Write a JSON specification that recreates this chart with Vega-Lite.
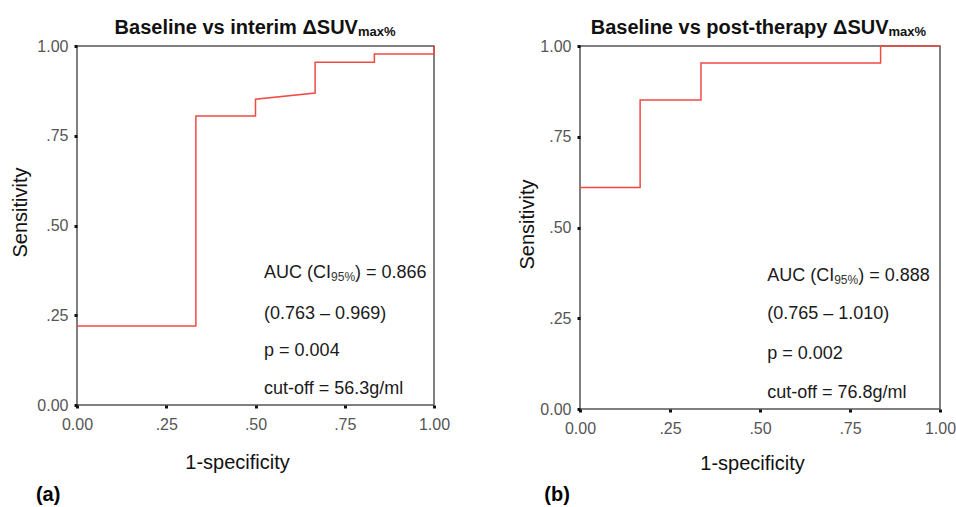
{
  "$schema": "https://vega.github.io/schema/vega-lite/v6.json",
  "padding": {"left": 9, "top": 17, "right": 0, "bottom": 0},
  "background": "white",
  "bounds": "flush",
  "spacing": 146,
  "config": {
    "font": "Liberation Sans",
    "view": {"stroke": "#555555", "strokeWidth": 1.5},
    "axis": {
      "grid": false,
      "domain": false,
      "labelFlush": false,
      "labelOverlap": false,
      "tickSize": 3,
      "tickWidth": 3,
      "tickColor": "#111111",
      "labelFontSize": 16,
      "labelColor": "#555555",
      "labelFont": "Liberation Sans",
      "titleFont": "Liberation Sans",
      "titleFontSize": 20,
      "titleFontWeight": "normal",
      "titleColor": "#111111"
    },
    "axisX": {"labelPadding": 8, "titleBaseline": "top"},
    "axisY": {"labelPadding": 6, "titleBaseline": "bottom"}
  },
  "hconcat": [
    {
      "width": 357,
      "height": 359,
      "layer": [
        {
          "data": {"values": [
            {"i": 0, "fpr": 0, "tpr": 0.22},
            {"i": 1, "fpr": 0.333, "tpr": 0.22},
            {"i": 2, "fpr": 0.333, "tpr": 0.805},
            {"i": 3, "fpr": 0.5, "tpr": 0.805},
            {"i": 4, "fpr": 0.5, "tpr": 0.852},
            {"i": 5, "fpr": 0.667, "tpr": 0.869},
            {"i": 6, "fpr": 0.667, "tpr": 0.955},
            {"i": 7, "fpr": 0.833, "tpr": 0.955},
            {"i": 8, "fpr": 0.833, "tpr": 0.978},
            {"i": 9, "fpr": 1, "tpr": 0.978},
            {"i": 10, "fpr": 1, "tpr": 1}
          ]},
          "mark": {"type": "line", "color": "#f04a45", "strokeWidth": 1.5},
          "encoding": {
            "x": {"field": "fpr", "type": "quantitative", "scale": {"domain": [0, 1], "nice": false},
              "axis": {"title": "1-specificity", "values": [0, 0.25, 0.5, 0.75, 1],
                "labelExpr": "datum.value == 0 ? '0.00' : datum.value == 1 ? '1.00' : '.' + format(datum.value * 100, '02d')",
                "titleX": 160, "titleY": 47}},
            "y": {"field": "tpr", "type": "quantitative", "scale": {"domain": [0, 1], "nice": false},
              "axis": {"title": "Sensitivity", "values": [0, 0.25, 0.5, 0.75, 1],
                "labelExpr": "datum.value == 0 ? '0.00' : datum.value == 1 ? '1.00' : '.' + format(datum.value * 100, '02d')",
                "titleX": -47, "titleY": 166}},
            "order": {"field": "i"}
          }
        },
        {
          "data": {"values": [{"t": "Baseline vs interim ΔSUV"}]},
          "mark": {"type": "text", "align": "right", "baseline": "alphabetic", "fontSize": 20, "fontWeight": "bold", "color": "#111111"},
          "encoding": {"x": {"datum": 0.787, "type": "quantitative"}, "y": {"datum": 1.0334, "type": "quantitative"}, "text": {"field": "t"}}
        },
        {
          "data": {"values": [{"t": "max%"}]},
          "mark": {"type": "text", "align": "left", "baseline": "alphabetic", "fontSize": 13, "fontWeight": "bold", "dy": 2, "color": "#111111"},
          "encoding": {"x": {"datum": 0.787, "type": "quantitative"}, "y": {"datum": 1.0334, "type": "quantitative"}, "text": {"field": "t"}}
        },
        {
          "data": {"values": [{"t": "AUC (CI"}]},
          "mark": {"type": "text", "align": "left", "baseline": "middle", "fontSize": 18, "color": "#1a1a1a"},
          "encoding": {"x": {"datum": 0.524, "type": "quantitative"}, "y": {"datum": 0.368, "type": "quantitative"}, "text": {"field": "t"}}
        },
        {
          "data": {"values": [{"t": "95%"}]},
          "mark": {"type": "text", "align": "left", "baseline": "middle", "fontSize": 12, "dx": 67, "dy": 4, "color": "#333333"},
          "encoding": {"x": {"datum": 0.524, "type": "quantitative"}, "y": {"datum": 0.368, "type": "quantitative"}, "text": {"field": "t"}}
        },
        {
          "data": {"values": [{"t": ") = 0.866"}]},
          "mark": {"type": "text", "align": "left", "baseline": "middle", "fontSize": 18, "dx": 91, "color": "#1a1a1a"},
          "encoding": {"x": {"datum": 0.524, "type": "quantitative"}, "y": {"datum": 0.368, "type": "quantitative"}, "text": {"field": "t"}}
        },
        {
          "data": {"values": [{"t": "(0.763 – 0.969)"}]},
          "mark": {"type": "text", "align": "left", "baseline": "middle", "fontSize": 18, "color": "#1a1a1a"},
          "encoding": {"x": {"datum": 0.524, "type": "quantitative"}, "y": {"datum": 0.253, "type": "quantitative"}, "text": {"field": "t"}}
        },
        {
          "data": {"values": [{"t": "p = 0.004"}]},
          "mark": {"type": "text", "align": "left", "baseline": "middle", "fontSize": 18, "color": "#1a1a1a"},
          "encoding": {"x": {"datum": 0.524, "type": "quantitative"}, "y": {"datum": 0.15, "type": "quantitative"}, "text": {"field": "t"}}
        },
        {
          "data": {"values": [{"t": "cut-off = 56.3g/ml"}]},
          "mark": {"type": "text", "align": "left", "baseline": "middle", "fontSize": 18, "color": "#1a1a1a"},
          "encoding": {"x": {"datum": 0.524, "type": "quantitative"}, "y": {"datum": 0.045, "type": "quantitative"}, "text": {"field": "t"}}
        },
        {
          "data": {"values": [{"t": "(a)"}]},
          "mark": {"type": "text", "align": "left", "baseline": "alphabetic", "fontSize": 20, "fontWeight": "bold", "color": "#000000"},
          "encoding": {"x": {"datum": -0.115, "type": "quantitative"}, "y": {"datum": -0.267, "type": "quantitative"}, "text": {"field": "t"}}
        }
      ]
    },
    {
      "width": 360,
      "height": 363,
      "layer": [
        {
          "data": {"values": [
            {"i": 0, "fpr": 0, "tpr": 0.61},
            {"i": 1, "fpr": 0.167, "tpr": 0.61},
            {"i": 2, "fpr": 0.167, "tpr": 0.851},
            {"i": 3, "fpr": 0.336, "tpr": 0.851},
            {"i": 4, "fpr": 0.336, "tpr": 0.953},
            {"i": 5, "fpr": 0.835, "tpr": 0.953},
            {"i": 6, "fpr": 0.835, "tpr": 1},
            {"i": 7, "fpr": 1, "tpr": 1}
          ]},
          "mark": {"type": "line", "color": "#f04a45", "strokeWidth": 1.5},
          "encoding": {
            "x": {"field": "fpr", "type": "quantitative", "scale": {"domain": [0, 1], "nice": false},
              "axis": {"title": "1-specificity", "values": [0, 0.25, 0.5, 0.75, 1],
                "labelExpr": "datum.value == 0 ? '0.00' : datum.value == 1 ? '1.00' : '.' + format(datum.value * 100, '02d')",
                "titleX": 172, "titleY": 44}},
            "y": {"field": "tpr", "type": "quantitative", "scale": {"domain": [0, 1], "nice": false},
              "axis": {"title": "Sensitivity", "values": [0, 0.25, 0.5, 0.75, 1],
                "labelExpr": "datum.value == 0 ? '0.00' : datum.value == 1 ? '1.00' : '.' + format(datum.value * 100, '02d')",
                "titleX": -43, "titleY": 178}},
            "order": {"field": "i"}
          }
        },
        {
          "data": {"values": [{"t": "Baseline vs post-therapy ΔSUV"}]},
          "mark": {"type": "text", "align": "right", "baseline": "alphabetic", "fontSize": 20, "fontWeight": "bold", "color": "#111111"},
          "encoding": {"x": {"datum": 0.857, "type": "quantitative"}, "y": {"datum": 1.0331, "type": "quantitative"}, "text": {"field": "t"}}
        },
        {
          "data": {"values": [{"t": "max%"}]},
          "mark": {"type": "text", "align": "left", "baseline": "alphabetic", "fontSize": 13, "fontWeight": "bold", "dy": 2, "color": "#111111"},
          "encoding": {"x": {"datum": 0.857, "type": "quantitative"}, "y": {"datum": 1.0331, "type": "quantitative"}, "text": {"field": "t"}}
        },
        {
          "data": {"values": [{"t": "AUC (CI"}]},
          "mark": {"type": "text", "align": "left", "baseline": "middle", "fontSize": 18, "color": "#1a1a1a"},
          "encoding": {"x": {"datum": 0.52, "type": "quantitative"}, "y": {"datum": 0.366, "type": "quantitative"}, "text": {"field": "t"}}
        },
        {
          "data": {"values": [{"t": "95%"}]},
          "mark": {"type": "text", "align": "left", "baseline": "middle", "fontSize": 12, "dx": 67, "dy": 4, "color": "#333333"},
          "encoding": {"x": {"datum": 0.52, "type": "quantitative"}, "y": {"datum": 0.366, "type": "quantitative"}, "text": {"field": "t"}}
        },
        {
          "data": {"values": [{"t": ") = 0.888"}]},
          "mark": {"type": "text", "align": "left", "baseline": "middle", "fontSize": 18, "dx": 91, "color": "#1a1a1a"},
          "encoding": {"x": {"datum": 0.52, "type": "quantitative"}, "y": {"datum": 0.366, "type": "quantitative"}, "text": {"field": "t"}}
        },
        {
          "data": {"values": [{"t": "(0.765 – 1.010)"}]},
          "mark": {"type": "text", "align": "left", "baseline": "middle", "fontSize": 18, "color": "#1a1a1a"},
          "encoding": {"x": {"datum": 0.52, "type": "quantitative"}, "y": {"datum": 0.262, "type": "quantitative"}, "text": {"field": "t"}}
        },
        {
          "data": {"values": [{"t": "p = 0.002"}]},
          "mark": {"type": "text", "align": "left", "baseline": "middle", "fontSize": 18, "color": "#1a1a1a"},
          "encoding": {"x": {"datum": 0.52, "type": "quantitative"}, "y": {"datum": 0.152, "type": "quantitative"}, "text": {"field": "t"}}
        },
        {
          "data": {"values": [{"t": "cut-off = 76.8g/ml"}]},
          "mark": {"type": "text", "align": "left", "baseline": "middle", "fontSize": 18, "color": "#1a1a1a"},
          "encoding": {"x": {"datum": 0.52, "type": "quantitative"}, "y": {"datum": 0.044, "type": "quantitative"}, "text": {"field": "t"}}
        },
        {
          "data": {"values": [{"t": "(b)"}]},
          "mark": {"type": "text", "align": "left", "baseline": "alphabetic", "fontSize": 20, "fontWeight": "bold", "color": "#000000"},
          "encoding": {"x": {"datum": -0.099, "type": "quantitative"}, "y": {"datum": -0.253, "type": "quantitative"}, "text": {"field": "t"}}
        }
      ]
    }
  ]
}
